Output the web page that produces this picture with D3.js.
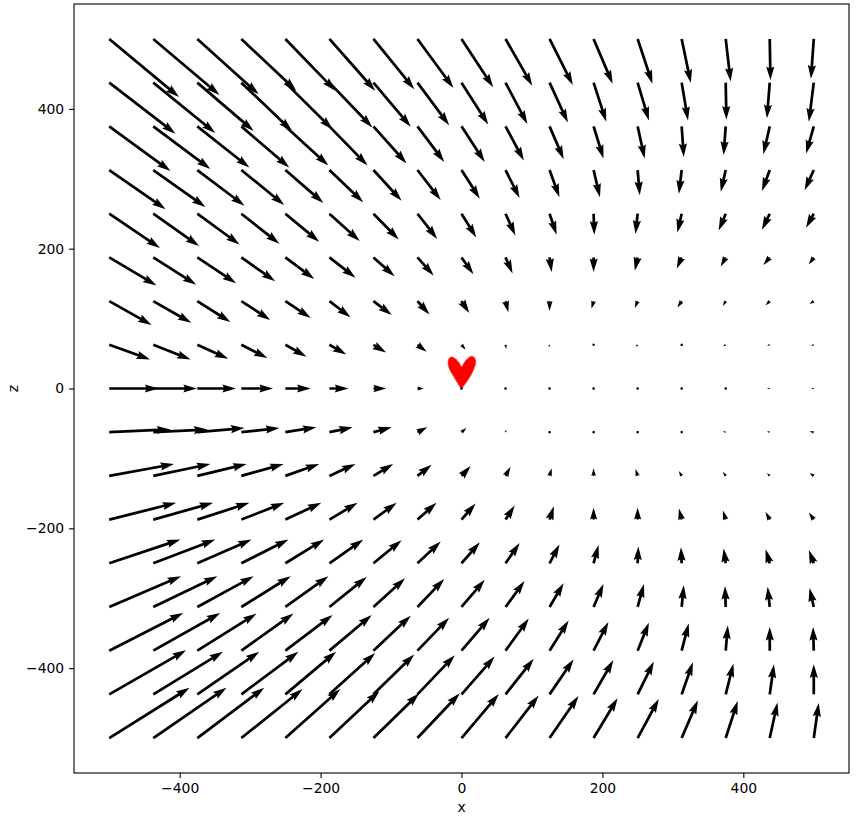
<!DOCTYPE html>
<html>
<head>
<meta charset="utf-8">
<script src="https://cdn.jsdelivr.net/npm/d3@7"></script>
<style>
body{margin:0;background:#fff;}
text{font-family:"DejaVu Sans",sans-serif;}
</style>
</head>
<body>
<div id="chart"></div>
<script>
// grid positions of the arrows
var xs = [-500,-437.5,-375,-312.5,-250,-187.5,-125,-62.5,0,62.5,125,187.5,250,312.5,375,437.5,500];
var zs = [500,437.5,375,312.5,250,187.5,125,62.5,0,-62.5,-125,-187.5,-250,-312.5,-375,-437.5,-500];

// x component of each arrow, one row per z (top row first)
var U = [
  [99,94,87,78,71,65,58,51,45,38,33,27,21,13,7,1,-4],
  [94,88,80,72,67,61,53,45,38,31,26,18,16,9,1,-4,-7],
  [87,81,74,68,61,54,47,38,33,26,20,14,10,3,-3,-9,-11],
  [80,74,67,61,54,48,40,33,26,20,14,9,3,-4,-7,-11,-13],
  [72,65,60,54,48,43,36,28,21,14,10,1,-3,-6,-10,-11,-11],
  [67,61,55,48,41,37,30,23,17,10,3,0,-4,-7,-7,-9,-7],
  [60,54,47,41,36,30,26,17,11,4,0,-3,-4,-6,-4,-6,-6],
  [58,53,44,37,30,24,18,13,6,1,-1,-1,-3,-3,-4,-4,-4],
  [70,62,55,45,36,27,18,9,0,0,0,-1,-1,-3,-3,-4,-4],
  [87,77,67,54,44,33,26,14,7,1,0,-1,-1,-3,-4,-4,-6],
  [92,81,70,60,48,37,28,20,13,7,3,0,-3,-4,-4,-4,-6],
  [95,85,74,61,51,40,33,27,20,13,6,0,0,-4,-4,-6,-7],
  [101,88,77,67,55,48,40,33,26,20,14,7,1,-1,-3,-6,-7],
  [102,91,80,70,61,53,45,38,33,27,20,14,9,3,-1,-3,-6],
  [105,95,84,74,67,60,53,45,40,33,27,21,16,10,3,0,-1],
  [109,99,88,81,72,65,58,53,47,40,34,28,23,16,11,6,0],
  [114,104,95,87,78,71,65,60,53,47,41,34,30,23,17,11,7]
];

// z component of each arrow
var V = [
  [-83,-80,-79,-74,-74,-74,-72,-70,-69,-67,-66,-64,-64,-63,-61,-59,-57],
  [-73,-72,-69,-69,-67,-64,-63,-61,-60,-59,-57,-56,-54,-54,-53,-51,-56],
  [-64,-61,-59,-59,-56,-56,-53,-51,-51,-49,-47,-46,-46,-44,-41,-40,-39],
  [-56,-53,-51,-50,-47,-46,-44,-43,-41,-40,-39,-39,-36,-34,-31,-30,-29],
  [-49,-46,-44,-43,-40,-39,-37,-36,-34,-31,-30,-30,-29,-27,-24,-23,-20],
  [-40,-39,-37,-34,-31,-29,-27,-26,-24,-23,-21,-21,-19,-16,-13,-11,-10],
  [-34,-31,-30,-27,-24,-23,-20,-19,-17,-16,-14,-11,-10,-9,-7,-6,-4],
  [-21,-21,-20,-19,-17,-14,-11,-10,-7,-6,-4,-3,-3,-2,-2,-1,-1],
  [0,0,0,0,0,0,0,0,0,0,0,0,0,0,0,0,0],
  [4,4,6,6,7,7,7,7,6,4,1,1,1,1,1,1,1],
  [17,17,17,17,17,17,17,16,14,13,11,11,10,7,6,4,4],
  [24,24,24,24,24,24,24,24,23,20,19,17,17,16,13,11,10],
  [34,34,34,34,34,34,33,31,30,29,27,26,24,23,21,20,19],
  [44,44,44,44,44,43,41,40,39,37,34,33,33,31,30,29,27],
  [54,54,53,53,51,51,50,47,47,46,43,41,40,39,36,34,34],
  [63,61,61,61,61,59,57,56,54,51,50,49,47,46,44,43,43],
  [72,72,72,70,70,67,64,64,63,61,60,57,56,54,53,51,50]
];

// outline of the red heart near the origin
var heartX = [0,-6,-12,-17,-19,-18,-14,-8,-3,0,4,9,15,19,20,17,12,6];
var heartZ = [1,9,19,28,36,42,45,42,36,31,37,43,46,43,36,27,17,8];

var xTicks = [-400,-200,0,200,400];
var zTicks = [-400,-200,0,200,400];

var W = 865, H = 818;
var L = 74, T = 4, R = 849, B = 773;

var svg = d3.select("#chart").append("svg")
  .attr("width", W).attr("height", H);

var x = d3.scaleLinear().domain([-550,550]).range([L,R]);
var y = d3.scaleLinear().domain([-550,550]).range([B,T]);

svg.append("rect").attr("x",0).attr("y",0).attr("width",W).attr("height",H).attr("fill","#fff");

// heart
var heartPts = heartX.map(function(d,i){ return [x(d), y(heartZ[i])]; });
svg.append("path")
  .attr("d", d3.line().curve(d3.curveCatmullRomClosed.alpha(0.5))(heartPts))
  .attr("fill", "#ff0000")
  .attr("stroke", "#ff2020")
  .attr("stroke-width", 1.4)
  .attr("stroke-dasharray", "1.2,0.8")
  .attr("stroke-opacity", 0.8);

// matplotlib style quiver arrows (pivot tail)
var w = 0.06 * (R - L) / 17;   // shaft width in px
var headlength = 5, headaxislength = 4.5, headwidth = 3, minshaft = 1, minlength = 1;
var minsh = minshaft * headlength;

function arrowPoly(len){
  // len in units of shaft width
  var xx, yy;
  if (len < minlength){
    var pts = [];
    for (var k = 0; k < 6; k++){
      var th = k * Math.PI / 3;
      pts.push([Math.cos(th) * minlength * 0.5, Math.sin(th) * minlength * 0.5]);
    }
    return pts;
  }
  if (len < minsh){
    var s = len / minsh;
    xx = [0, minsh - headaxislength, minsh - headlength, minsh].map(function(v){ return v * s; });
    yy = [0.5, 0.5, 0.5 * headwidth, 0].map(function(v){ return v * s; });
  } else {
    xx = [0, len - headaxislength, len - headlength, len];
    yy = [0.5, 0.5, 0.5 * headwidth, 0];
  }
  return [[xx[0],yy[0]],[xx[1],yy[1]],[xx[2],yy[2]],[xx[3],0],[xx[2],-yy[2]],[xx[1],-yy[1]],[xx[0],-yy[0]]];
}

var arrows = [];
zs.forEach(function(zv, j){
  xs.forEach(function(xv, i){
    var x0 = x(xv), y0 = y(zv);
    var dx = x(xv + U[j][i]) - x0, dy = y(zv + V[j][i]) - y0;
    var len = Math.sqrt(dx*dx + dy*dy) / w;
    var ang = Math.atan2(dy, dx);
    var c = Math.cos(ang), sn = Math.sin(ang);
    var pts = arrowPoly(len).map(function(p){
      var px = p[0] * w, py = p[1] * w;
      return [x0 + px * c - py * sn, y0 + px * sn + py * c];
    });
    arrows.push(pts);
  });
});

svg.append("g").selectAll("path").data(arrows).enter().append("path")
  .attr("d", function(d){ return "M" + d.map(function(p){ return p[0].toFixed(2) + "," + p[1].toFixed(2); }).join("L") + "Z"; })
  .attr("fill", "#000");

// axes
var xAxis = d3.axisBottom(x).tickValues(xTicks).tickFormat(d3.format("d")).tickSize(4.9).tickPadding(4.9).tickSizeOuter(0);
var yAxis = d3.axisLeft(y).tickValues(zTicks).tickFormat(d3.format("d")).tickSize(4.9).tickPadding(4.9).tickSizeOuter(0);

var gx = svg.append("g").attr("transform", "translate(0," + B + ")").call(xAxis);
var gy = svg.append("g").attr("transform", "translate(" + L + ",0)").call(yAxis);
[gx, gy].forEach(function(g){
  g.select(".domain").remove();
  g.selectAll(".tick line").attr("stroke", "#000").attr("stroke-width", 1.1);
  g.selectAll(".tick text").attr("fill", "#000").style("font-size", "13.9px").style("font-family", "DejaVu Sans");
});

svg.append("rect")
  .attr("x", L).attr("y", T).attr("width", R - L).attr("height", B - T)
  .attr("fill", "none").attr("stroke", "#000").attr("stroke-width", 1.1);

svg.append("text").attr("x", (L + R) / 2).attr("y", 812)
  .attr("text-anchor", "middle").style("font-size", "13.9px").text("x");
svg.append("text").attr("transform", "translate(18," + ((T + B) / 2) + ") rotate(-90)")
  .attr("text-anchor", "middle").style("font-size", "13.9px").text("z");
</script>
</body>
</html>
